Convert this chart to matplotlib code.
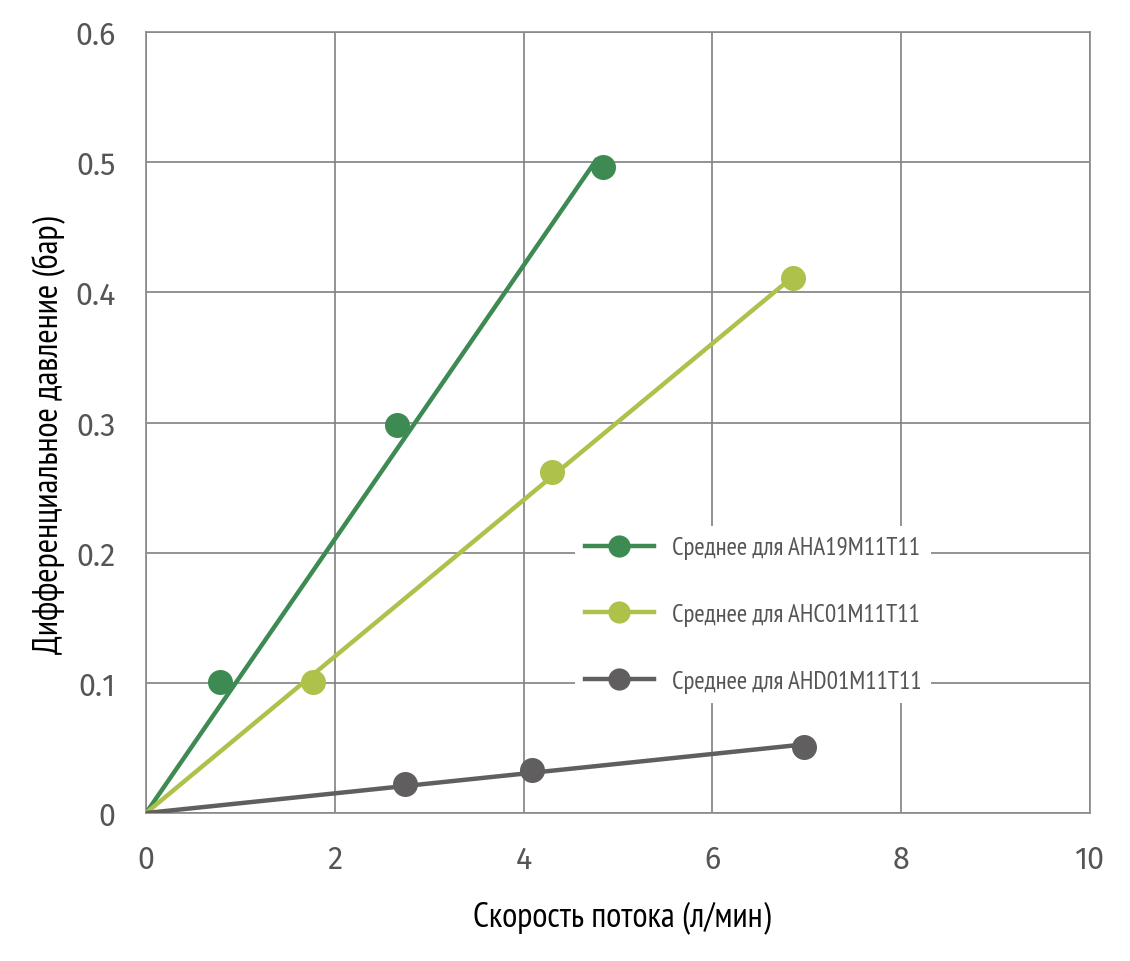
import matplotlib
matplotlib.use("Agg")
import matplotlib.pyplot as plt
from matplotlib.lines import Line2D
import numpy as np

# data
aha_x = [0.78, 2.66, 4.84]
aha_y = [0.101, 0.298, 0.496]
ahc_x = [1.77, 4.30, 6.85]
ahc_y = [0.101, 0.262, 0.411]
ahd_x = [2.74, 4.09, 6.97]
ahd_y = [0.022, 0.033, 0.051]

# where each trendline stops on the x axis
trend_end = [4.78, 6.78, 7.0]

labels = ["Среднее для AHA19M11T11", "Среднее для AHC01M11T11", "Среднее для AHD01M11T11"]
colors = ["#3d8b53", "#adc14b", "#605e5f"]

x_ticks = [0, 2, 4, 6, 8, 10]
y_ticks = [0, 0.1, 0.2, 0.3, 0.4, 0.5, 0.6]
y_ticklabels = ["0", "0.1", "0.2", "0.3", "0.4", "0.5", "0.6"]

narrow = ["PT Sans Narrow", "Fira Sans Condensed", "Roboto Condensed", "DejaVu Sans"]
tickfont = ["Fira Sans", "Roboto", "DejaVu Sans"]

fig = plt.figure(figsize=(11.3, 9.62), dpi=100)
ax = fig.add_axes([0.1292, 0.1538, 0.8354, 0.8119])

series = [(aha_x, aha_y), (ahc_x, ahc_y), (ahd_x, ahd_y)]
for (xs, ys), xe, c in zip(series, trend_end, colors):
    xs = np.array(xs)
    ys = np.array(ys)
    # linear trend forced through the origin
    k = np.sum(xs * ys) / np.sum(xs * xs)
    ax.plot([0, xe], [0, k * xe], color=c, lw=3.2, solid_capstyle="butt", zorder=3)
    ax.plot(xs, ys, "o", color=c, ms=18, mew=0, zorder=4)

ax.set_xlim(0, 10)
ax.set_ylim(0, 0.6)
ax.set_xticks(x_ticks)
ax.set_yticks(y_ticks)
ax.set_yticklabels(y_ticklabels)
ax.grid(True, color="#808080", lw=1.2)
ax.set_axisbelow(True)
for s in ax.spines.values():
    s.set_color("#8a8a8a")
    s.set_linewidth(1.2)
ax.tick_params(length=0, labelsize=22, labelcolor="#555555")
ax.tick_params(axis="y", pad=22)
ax.tick_params(axis="x", pad=22)
for t in ax.get_xticklabels() + ax.get_yticklabels():
    t.set_family(tickfont)

ax.set_xlabel("Скорость потока (л/мин)", family=narrow, fontsize=25, color="black", va="center")
ax.set_ylabel("Дифференциальное давление (бар)", family=narrow, fontsize=25, color="black", va="center")
ax.xaxis.set_label_coords(0.504, -0.133)
ax.yaxis.set_label_coords(-0.104, 0.485)

handles = [Line2D([0], [0], color=c, lw=3.2, marker="o", ms=16, mew=0) for c in colors]
leg = ax.legend(handles, labels, loc="upper left", bbox_to_anchor=(0.441, 0.383),
                frameon=True, facecolor="white", edgecolor="none", framealpha=1,
                prop={"family": narrow, "size": 18}, labelcolor="#555555",
                handlelength=2.75, handletextpad=0.72, labelspacing=1.75,
                borderpad=0.4, fancybox=False)
leg.set_zorder(5)

fig.savefig("out.png", dpi=100)
